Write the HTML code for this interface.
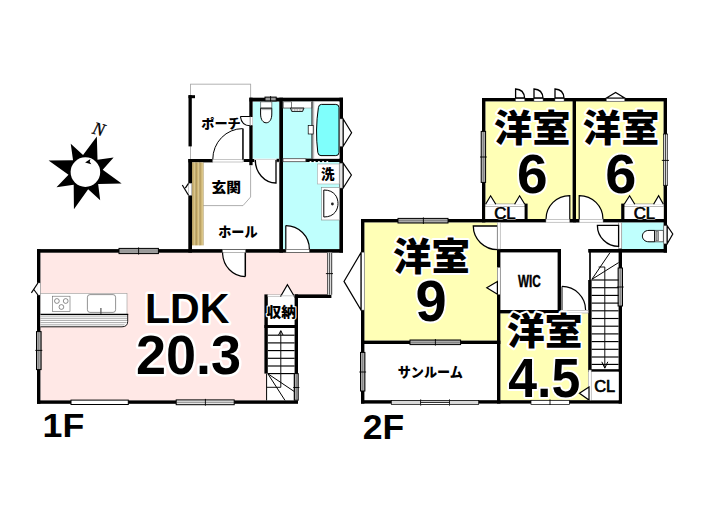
<!DOCTYPE html><html><head><meta charset="utf-8"><title>Floor plan</title><style>html,body{margin:0;padding:0;background:#fff;font-family:"Liberation Sans",sans-serif}body{width:705px;height:525px;overflow:hidden}</style></head><body><svg width="705" height="525" viewBox="0 0 705 525" style="display:block"><rect width="705" height="525" fill="#fff"/><path d="M40.40 252.60 L327.40 252.60 L327.40 295.00 L264.40 295.00 L264.40 373.60 L266.40 373.60 L266.40 400.40 L40.40 400.40 Z" fill="#FFE8E6" stroke="none" stroke-width="0.8"/>
<rect x="252.80" y="101.60" width="26.40" height="57.00" fill="#BFFFFD"/>
<rect x="283.00" y="101.60" width="29.00" height="57.00" fill="#BFFFFD"/>
<rect x="283.00" y="162.00" width="56.40" height="87.20" fill="#BFFFFD"/>
<path d="M190.50 84.00 L190.50 159.00" fill="none" stroke="#aaa" stroke-width="0.9"/>
<path d="M250.60 84.00 L250.60 98.00" fill="none" stroke="#aaa" stroke-width="0.9"/>
<path d="M190.10 84.20 L251.00 84.20" fill="none" stroke="#aaa" stroke-width="0.9"/>
<rect x="37.00" y="249.20" width="3.40" height="154.60" fill="#000"/>
<rect x="37.00" y="249.10" width="306.00" height="3.60" fill="#000"/>
<rect x="37.00" y="400.40" width="261.00" height="3.40" fill="#000"/>
<rect x="294.60" y="294.40" width="3.40" height="79.60" fill="#000"/>
<rect x="294.60" y="294.40" width="36.80" height="3.60" fill="#000"/>
<rect x="264.40" y="294.40" width="3.40" height="79.20" fill="#000"/>
<rect x="267.80" y="294.80" width="26.80" height="1.80" fill="#fff" stroke="#999" stroke-width="0.5"/>
<rect x="264.40" y="325.00" width="33.60" height="3.00" fill="#000"/>
<rect x="188.30" y="159.00" width="3.70" height="93.60" fill="#000"/>
<rect x="188.40" y="159.00" width="24.40" height="3.40" fill="#000"/>
<rect x="243.60" y="159.00" width="11.00" height="3.00" fill="#000"/>
<rect x="249.30" y="97.70" width="3.30" height="67.50" fill="#000"/>
<rect x="249.40" y="97.70" width="93.60" height="3.80" fill="#000"/>
<rect x="279.30" y="97.70" width="3.70" height="154.90" fill="#000"/>
<rect x="339.40" y="97.70" width="3.60" height="154.90" fill="#000"/>
<rect x="305.80" y="158.60" width="37.20" height="3.40" fill="#000"/>
<rect x="188.50" y="95.20" width="3.30" height="51.20" fill="#000"/>
<rect x="188.50" y="95.20" width="6.50" height="3.00" fill="#000"/>
<path d="M266.60 373.60 L266.60 400.40" fill="none" stroke="#000" stroke-width="1.0"/>
<path d="M294.20 373.60 L294.20 400.40" fill="none" stroke="#000" stroke-width="0.6"/>
<rect x="119.00" y="248.40" width="39.40" height="5.20" fill="#999" stroke="#000" stroke-width="1.0"/>
<path d="M119.80 250.30 L157.60 250.30" fill="none" stroke="#d4d4d4" stroke-width="0.5"/>
<path d="M119.80 251.70 L157.60 251.70" fill="none" stroke="#d4d4d4" stroke-width="0.5"/>
<path d="M119.80 251.00 L157.60 251.00" fill="none" stroke="#555" stroke-width="0.5"/>
<path d="M138.60 247.40 L138.60 254.60" fill="none" stroke="#000" stroke-width="0.9"/>
<rect x="36.50" y="331.60" width="4.60" height="38.00" fill="#999" stroke="#000" stroke-width="1.0"/>
<path d="M38.10 332.40 L38.10 368.80" fill="none" stroke="#d4d4d4" stroke-width="0.5"/>
<path d="M39.50 332.40 L39.50 368.80" fill="none" stroke="#d4d4d4" stroke-width="0.5"/>
<path d="M38.80 332.40 L38.80 368.80" fill="none" stroke="#555" stroke-width="0.5"/>
<path d="M35.30 350.40 L42.30 350.40" fill="none" stroke="#000" stroke-width="0.9"/>
<rect x="71.00" y="400.10" width="57.30" height="4.40" fill="#fff" stroke="#000" stroke-width="1.0"/>
<rect x="176.20" y="399.90" width="58.00" height="4.80" fill="#e4e4e4" stroke="#000" stroke-width="1.0"/>
<path d="M176.20 402.30 L234.20 402.30" fill="none" stroke="#333" stroke-width="0.5"/>
<path d="M205.40 398.90 L205.40 405.70" fill="none" stroke="#000" stroke-width="0.9"/>
<rect x="294.40" y="373.60" width="3.80" height="26.60" fill="#999" stroke="#000" stroke-width="1.0"/>
<path d="M295.60 374.40 L295.60 399.40" fill="none" stroke="#d4d4d4" stroke-width="0.5"/>
<path d="M297.00 374.40 L297.00 399.40" fill="none" stroke="#d4d4d4" stroke-width="0.5"/>
<path d="M296.30 374.40 L296.30 399.40" fill="none" stroke="#555" stroke-width="0.5"/>
<path d="M293.20 387.50 L299.40 387.50" fill="none" stroke="#000" stroke-width="0.9"/>
<rect x="327.30" y="252.60" width="4.80" height="42.20" fill="#fff"/>
<path d="M327.70 252.60 L327.70 294.80" fill="none" stroke="#000" stroke-width="0.8"/>
<path d="M329.70 252.60 L329.70 294.80" fill="none" stroke="#000" stroke-width="0.8"/>
<path d="M331.70 252.60 L331.70 294.80" fill="none" stroke="#000" stroke-width="0.8"/>
<path d="M325.90 273.60 L333.00 273.60" fill="none" stroke="#000" stroke-width="0.9"/>
<rect x="265.00" y="97.10" width="11.20" height="3.80" fill="#999" stroke="#000" stroke-width="1.0"/>
<path d="M270.60 96.10 L270.60 101.90" fill="none" stroke="#000" stroke-width="0.9"/>
<rect x="339.80" y="119.00" width="3.20" height="27.20" fill="#eee" stroke="#999" stroke-width="0.5"/>
<path d="M343.20 119.00 L351.60 132.70 L343.20 146.20 Z" fill="#fff" stroke="#000" stroke-width="1.2"/>
<rect x="339.80" y="163.20" width="3.20" height="24.80" fill="#e4e4e4" stroke="#888" stroke-width="0.5"/>
<path d="M343.20 163.20 L351.40 175.00 L343.20 188.00 Z" fill="#fff" stroke="#000" stroke-width="1.2"/>
<circle cx="310.5" cy="162" r="1.1" fill="#fff"/>
<circle cx="314.7" cy="162" r="1.1" fill="#fff"/>
<circle cx="318.9" cy="162" r="1.1" fill="#fff"/>
<circle cx="323.1" cy="162" r="1.1" fill="#fff"/>
<circle cx="327.3" cy="162" r="1.1" fill="#fff"/>
<rect x="212.80" y="159.30" width="30.20" height="2.70" fill="#fff" stroke="#8c8c8c" stroke-width="0.5"/>
<rect x="242.20" y="128.50" width="1.50" height="31.10" fill="#000"/>
<path d="M242.6 128.6 A30 30.6 0 0 0 212.8 159.2" fill="none" stroke="#000" stroke-width="1.0"/>
<rect x="249.20" y="116.40" width="3.50" height="9.40" fill="#fff"/>
<path d="M240.4 116.5 H252.4 M240.4 116.5 Q241.5 125.6 250 125.8 H252.4" fill="none" stroke="#000" stroke-width="1.1"/>
<path d="M250.40 116.60 L250.40 125.80" fill="none" stroke="#8c8c8c" stroke-width="0.7"/>
<rect x="254.60" y="159.20" width="24.60" height="3.00" fill="#eee" stroke="#bbb" stroke-width="0.5"/>
<rect x="276.60" y="158.80" width="2.80" height="3.00" fill="#000"/>
<path d="M255.3 160 A20.8 23 0 0 0 276 183 V160 Z" fill="#fff" stroke="none" stroke-width="0"/>
<path d="M255.3 160 A20.8 23 0 0 0 276 183 V160" fill="none" stroke="#000" stroke-width="1.3"/>
<rect x="283.00" y="158.70" width="22.80" height="3.00" fill="#fff" stroke="#444" stroke-width="0.8"/>
<rect x="222.40" y="249.60" width="23.20" height="2.70" fill="#fff" stroke="#555" stroke-width="0.5"/>
<path d="M222.6 252.6 A22.8 24 0 0 0 245.3 276.6 V252.6 Z" fill="#fff" stroke="none" stroke-width="0"/>
<path d="M222.6 252.6 A22.8 24 0 0 0 245.3 276.6" fill="none" stroke="#000" stroke-width="1.2"/>
<path d="M245.30 252.60 L245.30 276.60" fill="none" stroke="#000" stroke-width="1.5"/>
<rect x="286.00" y="249.60" width="23.40" height="2.70" fill="#fff" stroke="#555" stroke-width="0.5"/>
<path d="M285.8 225.6 A23.6 23.6 0 0 1 309.4 249.2 H285.8 Z" fill="#fff" stroke="none" stroke-width="0"/>
<path d="M285.8 225.6 A23.6 23.6 0 0 1 309.4 249.2" fill="none" stroke="#000" stroke-width="1.2"/>
<path d="M285.80 225.60 L285.80 249.20" fill="none" stroke="#000" stroke-width="1.2"/>
<path d="M203.30 205.60 L243.00 205.60 L250.60 197.00 L250.60 165.20" fill="none" stroke="#999" stroke-width="0.8"/>
<linearGradient id="wd" x1="0" x2="1" y1="0" y2="0"><stop offset="0" stop-color="#A48C4E"/><stop offset="0.3" stop-color="#C6AC6C"/><stop offset="0.72" stop-color="#DECA8E"/><stop offset="1" stop-color="#A48C4E"/></linearGradient>
<rect x="192.10" y="162.4" width="3.8" height="83" fill="url(#wd)"/>
<rect x="195.90" y="162.4" width="3.8" height="83" fill="url(#wd)"/>
<rect x="199.70" y="162.4" width="3.8" height="83" fill="url(#wd)"/>
<rect x="188.60" y="183.30" width="3.20" height="12.00" fill="#fff" stroke="#999" stroke-width="0.4"/>
<path d="M188.50 183.30 L185.30 188.00 L188.50 195.30 Z" fill="#fff" stroke="none" stroke-width="0"/>
<path d="M188.50 195.30 L182.30 185.00" fill="none" stroke="#000" stroke-width="1.2"/>
<path d="M185.30 188.20 L188.50 183.30" fill="none" stroke="#000" stroke-width="1.2"/>
<rect x="37.20" y="283.00" width="3.20" height="12.00" fill="#fff" stroke="#999" stroke-width="0.4"/>
<path d="M37.90 283.00 L33.80 289.60 L37.90 295.00 Z" fill="#fff" stroke="none" stroke-width="0"/>
<path d="M37.90 283.00 L31.40 292.80" fill="none" stroke="#000" stroke-width="1.2"/>
<path d="M33.80 289.50 L37.90 295.00" fill="none" stroke="#000" stroke-width="1.2"/>
<path d="M281.00 295.80 L287.40 284.60 L294.00 295.80 Z" fill="#fff" stroke="#000" stroke-width="1.2"/>
<rect x="281.40" y="295.20" width="12.20" height="1.70" fill="#fff"/>
<rect x="40.40" y="293.40" width="86.60" height="21.00" fill="#fff" stroke="#999" stroke-width="0.6"/>
<path d="M40.4 314.3 H127.7 V321.4 Q127.7 326.8 122 326.8 H40.4 Z" fill="#fff" stroke="none" stroke-width="0"/>
<path d="M40.40 316.10 L127.40 316.10" fill="none" stroke="#555" stroke-width="0.5"/>
<path d="M40.40 318.30 L127.40 318.30" fill="none" stroke="#555" stroke-width="0.5"/>
<path d="M40.40 320.40 L127.40 320.40" fill="none" stroke="#555" stroke-width="0.5"/>
<path d="M40.40 322.60 L126.60 322.60" fill="none" stroke="#555" stroke-width="0.5"/>
<path d="M40.40 324.80 L124.60 324.80" fill="none" stroke="#555" stroke-width="0.5"/>
<path d="M40.4 326.8 H122 Q127.7 326.8 127.7 321.4 V314.3" fill="none" stroke="#000" stroke-width="0.9"/>
<path d="M40.40 314.30 L128.20 314.30" fill="none" stroke="#000" stroke-width="1.2"/>
<rect x="52.30" y="296.20" width="17.70" height="15.40" fill="#fff" stroke="#666" stroke-width="0.6"/>
<circle cx="56.9" cy="301.0" r="2.4" fill="#fff" stroke="#444" stroke-width="0.6"/>
<circle cx="65.7" cy="301.0" r="2.4" fill="#fff" stroke="#444" stroke-width="0.6"/>
<circle cx="61.4" cy="307.0" r="2.4" fill="#fff" stroke="#444" stroke-width="0.6"/>
<rect x="87.4" y="294.6" width="28.2" height="17.8" rx="2.6" fill="#fff" stroke="#666" stroke-width="0.7"/>
<path d="M100.90 307.90 L100.90 314.00" fill="none" stroke="#555" stroke-width="1.2"/>
<path d="M260.6 101.8 H271.8 V108.2 H260.6 Z" fill="#fff" stroke="#333" stroke-width="0.6"/>
<path d="M260.6 108.2 H271.8 V114 C271.8 119.5 269.5 122.8 266.2 122.8 C262.9 122.8 260.6 119.5 260.6 114 Z" fill="#fff" stroke="#000" stroke-width="1.0"/>
<path d="M261.40 109.60 L271.00 109.60" fill="none" stroke="#666" stroke-width="0.5"/>
<rect x="283.00" y="101.60" width="29.00" height="6.40" fill="#fff" stroke="#888" stroke-width="0.5"/>
<rect x="283.20" y="101.80" width="8.30" height="6.20" fill="#fff" stroke="#444" stroke-width="0.7"/>
<path d="M290.4 108 H304 L302.6 111.5 H291.8 Z" fill="#bbb" stroke="#000" stroke-width="0.8"/>
<circle cx="293.4" cy="110" r="0.7" fill="#fff"/>
<circle cx="296.0" cy="110" r="0.7" fill="#fff"/>
<circle cx="298.6" cy="110" r="0.7" fill="#fff"/>
<circle cx="301.2" cy="110" r="0.7" fill="#fff"/>
<rect x="313.40" y="101.60" width="26.00" height="57.00" fill="#fff"/>
<path d="M312.00 101.60 L312.00 158.60" fill="none" stroke="#000" stroke-width="1.0"/>
<path d="M313.70 101.60 L313.70 158.60" fill="none" stroke="#777" stroke-width="0.6"/>
<path d="M321.4 104.4 H335.8 Q339 104.4 339 107.6 V152.4 Q339 155.6 335.8 155.6 H321 Q318.2 155.6 317.8 152.4 Q315 130 318.4 107.6 Q318.8 104.4 321.4 104.4 Z" fill="#7FFFFC" stroke="#000" stroke-width="1.0"/>
<rect x="308.20" y="125.60" width="5.00" height="8.40" fill="#fff" stroke="#000" stroke-width="0.7"/>
<rect x="317.60" y="164.00" width="21.60" height="20.00" fill="#fff" stroke="#aaa" stroke-width="0.6"/>
<rect x="321.60" y="187.60" width="17.80" height="32.40" fill="#fff" stroke="#888" stroke-width="0.6"/>
<path d="M323.8 190 C335 190 338 198 338 203.5 C338 209 335 217 323.8 217 Z" fill="#fff" stroke="#000" stroke-width="1.0"/>
<circle cx="332.4" cy="204" r="1.4" fill="#222"/>
<path d="M267.80 335.20 L294.60 335.20" fill="none" stroke="#000" stroke-width="1.15"/>
<path d="M267.80 342.90 L294.60 342.90" fill="none" stroke="#000" stroke-width="1.15"/>
<path d="M267.80 350.60 L294.60 350.60" fill="none" stroke="#000" stroke-width="1.15"/>
<path d="M267.80 358.30 L294.60 358.30" fill="none" stroke="#000" stroke-width="1.15"/>
<path d="M267.80 366.00 L294.60 366.00" fill="none" stroke="#000" stroke-width="1.15"/>
<path d="M267.80 373.60 L294.60 373.60" fill="none" stroke="#000" stroke-width="1.15"/>
<path d="M280.80 331.00 L280.80 387.30 L266.60 387.30" fill="none" stroke="#111" stroke-width="1.0"/>
<path d="M278.60 335.00 L280.80 330.60 L283.00 335.00" fill="none" stroke="#000" stroke-width="1.0"/>
<path d="M267.90 373.80 L294.40 391.60" fill="none" stroke="#000" stroke-width="1.0"/>
<path d="M267.90 373.80 L285.00 400.40" fill="none" stroke="#000" stroke-width="1.0"/>
<path d="M83.04 155.09 L96.85 136.53 L97.51 159.65 L113.63 157.61 L102.71 169.64 L121.65 183.57 L98.15 184.11 L100.19 200.23 L88.16 189.31 L73.93 209.20 L73.69 184.75 L56.51 187.35 L68.49 174.76 L48.60 160.53 L73.05 160.29 L70.73 143.64 Z" fill="#000" stroke="none" stroke-width="0"/>
<circle cx="85.4" cy="172.1" r="14.8" fill="#fff"/>
<path d="M85.10 162.40 L90.40 158.90 L89.70 161.80 L91.30 164.30 Z" fill="#000" stroke="none" stroke-width="0"/>
<g transform="rotate(16 99.2 129)"><text x="93.03" y="135.10" font-family="'Liberation Serif', serif" font-style="italic" font-size="18" fill="#000" stroke="#000" stroke-width="0.3" textLength="11.7" lengthAdjust="spacingAndGlyphs">N</text></g>
<rect x="485.40" y="101.40" width="87.20" height="117.60" fill="#FFFFB6"/>
<rect x="576.00" y="101.40" width="87.60" height="117.60" fill="#FFFFB6"/>
<rect x="364.40" y="222.40" width="133.10" height="118.20" fill="#FFFFB6"/>
<rect x="500.40" y="313.40" width="88.00" height="86.80" fill="#FFFFB6"/>
<rect x="622.00" y="222.40" width="41.60" height="26.60" fill="#BFFFFD"/>
<rect x="482.00" y="98.00" width="185.00" height="3.40" fill="#000"/>
<rect x="482.00" y="98.00" width="3.40" height="124.40" fill="#000"/>
<rect x="572.60" y="98.00" width="3.40" height="124.40" fill="#000"/>
<rect x="663.60" y="98.00" width="3.40" height="154.60" fill="#000"/>
<rect x="361.00" y="219.00" width="185.00" height="3.40" fill="#000"/>
<rect x="603.00" y="219.00" width="64.00" height="3.40" fill="#000"/>
<rect x="361.00" y="219.00" width="3.40" height="184.60" fill="#000"/>
<rect x="361.00" y="340.60" width="139.40" height="3.40" fill="#000"/>
<rect x="361.00" y="400.20" width="261.00" height="3.40" fill="#000"/>
<rect x="497.00" y="249.00" width="3.40" height="154.60" fill="#000"/>
<rect x="497.00" y="249.00" width="64.00" height="3.40" fill="#000"/>
<rect x="557.60" y="249.00" width="3.40" height="64.40" fill="#000"/>
<rect x="497.00" y="310.00" width="64.00" height="3.40" fill="#000"/>
<rect x="588.20" y="249.00" width="78.80" height="3.60" fill="#000"/>
<rect x="588.20" y="280.00" width="3.40" height="90.00" fill="#000"/>
<rect x="618.60" y="222.40" width="3.40" height="181.20" fill="#000"/>
<rect x="588.20" y="369.20" width="33.80" height="2.60" fill="#000"/>
<path d="M590.00 252.00 L590.00 280.00" fill="none" stroke="#000" stroke-width="1.7"/>
<rect x="485.40" y="204.40" width="42.20" height="14.60" fill="#fff"/>
<rect x="485.40" y="203.90" width="39.60" height="2.80" fill="#fff" stroke="#888" stroke-width="0.6"/>
<rect x="524.60" y="203.60" width="3.00" height="15.40" fill="#000"/>
<rect x="621.00" y="204.40" width="42.60" height="14.60" fill="#fff"/>
<rect x="624.00" y="203.90" width="39.60" height="2.80" fill="#fff" stroke="#888" stroke-width="0.6"/>
<rect x="621.20" y="203.60" width="3.20" height="15.40" fill="#000"/>
<rect x="591.60" y="371.80" width="27.00" height="28.40" fill="#fff"/>
<path d="M485.40 204.20 L490.60 195.80 L496.00 204.20 Z" fill="#fff" stroke="none" stroke-width="0"/>
<path d="M485.60 204.20 L490.60 195.80 L495.80 204.20" fill="none" stroke="#000" stroke-width="1.2"/>
<path d="M514.40 204.20 L519.60 195.80 L525.00 204.20 Z" fill="#fff" stroke="none" stroke-width="0"/>
<path d="M514.60 204.20 L519.60 195.80 L524.80 204.20" fill="none" stroke="#000" stroke-width="1.2"/>
<path d="M624.00 204.20 L629.60 195.80 L635.00 204.20 Z" fill="#fff" stroke="none" stroke-width="0"/>
<path d="M624.20 204.20 L629.60 195.80 L634.80 204.20" fill="none" stroke="#000" stroke-width="1.2"/>
<path d="M653.40 204.20 L658.60 195.80 L663.60 204.20 Z" fill="#fff" stroke="none" stroke-width="0"/>
<path d="M653.60 204.20 L658.60 195.80 L663.40 204.20" fill="none" stroke="#000" stroke-width="1.2"/>
<path d="M569.8 195.6 A23.6 23.6 0 0 0 546 219.2 H569.8 Z" fill="#fff" stroke="none" stroke-width="0"/>
<path d="M546 219.2 A23.6 23.6 0 0 1 569.8 195.6 V219.2" fill="none" stroke="#000" stroke-width="1.2"/>
<rect x="546.00" y="219.40" width="26.60" height="2.80" fill="#fff" stroke="#8c8c8c" stroke-width="0.5"/>
<path d="M579.2 195.6 A23.6 23.6 0 0 1 603 219.2 H579.2 Z" fill="#fff" stroke="none" stroke-width="0"/>
<path d="M603 219.2 A23.6 23.6 0 0 0 579.2 195.6 V219.2" fill="none" stroke="#000" stroke-width="1.2"/>
<rect x="576.00" y="219.40" width="27.00" height="2.80" fill="#fff" stroke="#8c8c8c" stroke-width="0.5"/>
<rect x="569.60" y="219.00" width="9.80" height="3.40" fill="#000"/>
<path d="M473.3 226 H497.6 V249.6 A24.3 23.6 0 0 1 473.3 226 Z" fill="#fff" stroke="#000" stroke-width="1.3"/>
<rect x="497.40" y="222.40" width="2.80" height="26.60" fill="#fff" stroke="#8c8c8c" stroke-width="0.5"/>
<rect x="497.30" y="267.60" width="2.90" height="26.80" fill="#fff" stroke="#8c8c8c" stroke-width="0.5"/>
<path d="M497.40 281.60 L486.80 287.80 L497.40 294.30 Z" fill="#fff" stroke="#000" stroke-width="1.2"/>
<rect x="561.00" y="310.30" width="27.20" height="2.70" fill="#fff" stroke="#8c8c8c" stroke-width="0.5"/>
<path d="M562 286.4 A23.6 23.6 0 0 1 585.6 310 H562 Z" fill="#fff" stroke="none" stroke-width="0"/>
<path d="M562 286.4 A23.6 23.6 0 0 1 585.6 310" fill="none" stroke="#000" stroke-width="1.2"/>
<path d="M562.00 286.40 L562.00 310.00" fill="none" stroke="#000" stroke-width="1.0"/>
<rect x="618.80" y="222.40" width="3.00" height="26.20" fill="#fff" stroke="#8c8c8c" stroke-width="0.5"/>
<path d="M597.4 225.4 H618.6 V246.4 A21.2 21 0 0 1 597.4 225.4 Z" fill="#fff" stroke="#000" stroke-width="1.3"/>
<rect x="588.60" y="370.00" width="2.60" height="30.20" fill="#fff" stroke="#8c8c8c" stroke-width="0.5"/>
<path d="M589.00 387.00 L579.40 393.20 L589.00 400.00 Z" fill="#fff" stroke="#000" stroke-width="1.2"/>
<rect x="361.20" y="252.40" width="3.00" height="57.60" fill="#fff" stroke="#8c8c8c" stroke-width="0.5"/>
<path d="M361.00 252.60 L344.00 281.40 L361.00 310.00 Z" fill="#fff" stroke="#000" stroke-width="1.2"/>
<rect x="663.80" y="225.80" width="3.20" height="18.00" fill="#f4f4f4" stroke="#666" stroke-width="0.5"/>
<path d="M667.20 225.80 L672.80 234.00 L667.20 243.80 Z" fill="#fff" stroke="#000" stroke-width="1.2"/>
<rect x="398.00" y="218.40" width="50.00" height="4.60" fill="#999" stroke="#000" stroke-width="1.0"/>
<path d="M398.80 220.00 L447.20 220.00" fill="none" stroke="#d4d4d4" stroke-width="0.5"/>
<path d="M398.80 221.40 L447.20 221.40" fill="none" stroke="#d4d4d4" stroke-width="0.5"/>
<path d="M398.80 220.70 L447.20 220.70" fill="none" stroke="#555" stroke-width="0.5"/>
<path d="M423.40 217.40 L423.40 224.00" fill="none" stroke="#000" stroke-width="0.9"/>
<rect x="410.00" y="340.00" width="50.60" height="4.60" fill="#999" stroke="#000" stroke-width="1.0"/>
<path d="M410.80 341.60 L459.80 341.60" fill="none" stroke="#d4d4d4" stroke-width="0.5"/>
<path d="M410.80 343.00 L459.80 343.00" fill="none" stroke="#d4d4d4" stroke-width="0.5"/>
<path d="M410.80 342.30 L459.80 342.30" fill="none" stroke="#555" stroke-width="0.5"/>
<path d="M435.40 339.00 L435.40 345.60" fill="none" stroke="#000" stroke-width="0.9"/>
<rect x="360.50" y="352.40" width="4.40" height="38.60" fill="#999" stroke="#000" stroke-width="1.0"/>
<path d="M362.00 353.20 L362.00 390.20" fill="none" stroke="#d4d4d4" stroke-width="0.5"/>
<path d="M363.40 353.20 L363.40 390.20" fill="none" stroke="#d4d4d4" stroke-width="0.5"/>
<path d="M362.70 353.20 L362.70 390.20" fill="none" stroke="#555" stroke-width="0.5"/>
<path d="M359.30 372.00 L366.10 372.00" fill="none" stroke="#000" stroke-width="0.9"/>
<rect x="481.20" y="131.40" width="4.40" height="51.00" fill="#999" stroke="#000" stroke-width="1.0"/>
<path d="M482.70 132.20 L482.70 181.60" fill="none" stroke="#d4d4d4" stroke-width="0.5"/>
<path d="M484.10 132.20 L484.10 181.60" fill="none" stroke="#d4d4d4" stroke-width="0.5"/>
<path d="M483.40 132.20 L483.40 181.60" fill="none" stroke="#555" stroke-width="0.5"/>
<path d="M480.00 157.00 L486.80 157.00" fill="none" stroke="#000" stroke-width="0.9"/>
<rect x="663.20" y="134.00" width="4.60" height="51.40" fill="#fff"/>
<path d="M663.60 134.00 L663.60 185.40" fill="none" stroke="#000" stroke-width="0.8"/>
<path d="M665.40 134.00 L665.40 185.40" fill="none" stroke="#000" stroke-width="0.8"/>
<path d="M667.30 134.00 L667.30 185.40" fill="none" stroke="#000" stroke-width="0.8"/>
<path d="M663.20 134.00 L667.80 134.00" fill="none" stroke="#000" stroke-width="0.8"/>
<path d="M663.20 185.40 L667.80 185.40" fill="none" stroke="#000" stroke-width="0.8"/>
<path d="M661.80 160.40 L669.00 160.40" fill="none" stroke="#000" stroke-width="0.9"/>
<rect x="618.10" y="268.00" width="4.40" height="38.00" fill="#999" stroke="#000" stroke-width="1.0"/>
<path d="M619.60 268.80 L619.60 305.20" fill="none" stroke="#d4d4d4" stroke-width="0.5"/>
<path d="M621.00 268.80 L621.00 305.20" fill="none" stroke="#d4d4d4" stroke-width="0.5"/>
<path d="M620.30 268.80 L620.30 305.20" fill="none" stroke="#555" stroke-width="0.5"/>
<path d="M616.90 287.00 L623.70 287.00" fill="none" stroke="#000" stroke-width="0.9"/>
<rect x="391.30" y="400.40" width="87.40" height="4.20" fill="#d8d8d8" stroke="#000" stroke-width="0.7"/>
<path d="M420.70 399.40 L420.70 405.60" fill="none" stroke="#000" stroke-width="0.9"/>
<path d="M449.50 399.40 L449.50 405.60" fill="none" stroke="#000" stroke-width="0.9"/>
<rect x="420.70" y="400.40" width="28.80" height="4.20" fill="#fff" stroke="#000" stroke-width="0.7"/>
<path d="M420.70 402.30 L449.50 402.30" fill="none" stroke="#000" stroke-width="1.0"/>
<rect x="531.00" y="400.30" width="38.40" height="4.20" fill="#fff" stroke="#000" stroke-width="0.7"/>
<path d="M550.00 399.40 L550.00 405.00" fill="none" stroke="#000" stroke-width="0.9"/>
<rect x="515.60" y="98.20" width="9.00" height="3.00" fill="#fff" stroke="#666" stroke-width="0.5"/>
<path d="M515.6 98 V89 Q524.0 89.4 524.6 98 Z" fill="#fff" stroke="#000" stroke-width="1.3"/>
<rect x="534.00" y="98.20" width="9.00" height="3.00" fill="#fff" stroke="#666" stroke-width="0.5"/>
<path d="M534.0 98 V89 Q542.4 89.4 543.0 98 Z" fill="#fff" stroke="#000" stroke-width="1.3"/>
<rect x="555.00" y="98.20" width="9.00" height="3.00" fill="#fff" stroke="#666" stroke-width="0.5"/>
<path d="M555.0 98 V89 Q563.4 89.4 564.0 98 Z" fill="#fff" stroke="#000" stroke-width="1.3"/>
<rect x="606.40" y="98.20" width="18.20" height="3.00" fill="#fff" stroke="#666" stroke-width="0.5"/>
<path d="M606.40 98.00 L615.60 92.40 L624.60 98.00 Z" fill="#fff" stroke="#000" stroke-width="1.2"/>
<path d="M654.6 230.4 H663.4 V241.8 H654.6 Z" fill="#fff" stroke="#222" stroke-width="0.7"/>
<rect x="656.00" y="231.40" width="2.60" height="9.40" fill="#aaa" stroke="#444" stroke-width="0.5"/>
<path d="M654.6 230.4 H649 C644.5 230.4 642.4 233.4 642.4 236.1 C642.4 238.8 644.5 241.8 649 241.8 H654.6 Z" fill="#fff" stroke="#000" stroke-width="1.0"/>
<path d="M591.60 280.00 L618.60 280.00" fill="none" stroke="#000" stroke-width="1.15"/>
<path d="M591.60 287.70 L618.60 287.70" fill="none" stroke="#000" stroke-width="1.15"/>
<path d="M591.60 295.40 L618.60 295.40" fill="none" stroke="#000" stroke-width="1.15"/>
<path d="M591.60 303.10 L618.60 303.10" fill="none" stroke="#000" stroke-width="1.15"/>
<path d="M591.60 310.80 L618.60 310.80" fill="none" stroke="#000" stroke-width="1.15"/>
<path d="M591.60 318.50 L618.60 318.50" fill="none" stroke="#000" stroke-width="1.15"/>
<path d="M591.60 326.20 L618.60 326.20" fill="none" stroke="#000" stroke-width="1.15"/>
<path d="M591.60 333.90 L618.60 333.90" fill="none" stroke="#000" stroke-width="1.15"/>
<path d="M591.60 341.60 L618.60 341.60" fill="none" stroke="#000" stroke-width="1.15"/>
<path d="M591.60 349.30 L618.60 349.30" fill="none" stroke="#000" stroke-width="1.15"/>
<path d="M591.60 357.00 L618.60 357.00" fill="none" stroke="#000" stroke-width="1.15"/>
<path d="M591.60 364.40 L618.60 364.40" fill="none" stroke="#000" stroke-width="1.15"/>
<path d="M591.80 279.40 L610.00 252.60" fill="none" stroke="#000" stroke-width="1.0"/>
<path d="M591.80 279.40 L618.60 262.60" fill="none" stroke="#000" stroke-width="1.0"/>
<path d="M598.60 267.00 L604.80 267.00 L604.80 368.00" fill="none" stroke="#111" stroke-width="1.0"/>
<path d="M601.80 361.80 L604.80 368.20 L607.80 361.80" fill="none" stroke="#000" stroke-width="1.0"/>
<g font-family="'Liberation Sans', 'Noto Sans CJK JP', sans-serif" font-weight="900" fill="#000">
<text x="201.23" y="127.73" font-size="13" textLength="39.5" lengthAdjust="spacingAndGlyphs">ポーチ</text>
<text x="211.43" y="192.37" font-size="14" textLength="29.6" lengthAdjust="spacingAndGlyphs">玄関</text>
<text x="218.13" y="236.89" font-size="14" textLength="39.4" lengthAdjust="spacingAndGlyphs">ホール</text>
<text x="320.98" y="179.13" font-size="13.5">洗</text>
<text x="266.55" y="316.67" font-size="14" textLength="29.5" lengthAdjust="spacingAndGlyphs" stroke="#fff" stroke-width="2" stroke-linejoin="round" paint-order="stroke">収納</text>
<text x="145.06" y="323.40" font-size="43" font-weight="bold" textLength="84.3" lengthAdjust="spacingAndGlyphs" stroke="#fff" stroke-width="5" stroke-linejoin="round" paint-order="stroke">LDK</text>
<text x="135.93" y="374.35" font-size="56" font-weight="bold" textLength="105.2" lengthAdjust="spacingAndGlyphs" stroke="#fff" stroke-width="5" stroke-linejoin="round" paint-order="stroke">20.3</text>
<text x="42.59" y="436.80" font-size="34" font-weight="bold" textLength="41.7" lengthAdjust="spacingAndGlyphs">1F</text>
<text x="362.77" y="439.40" font-size="35" font-weight="bold" textLength="41.5" lengthAdjust="spacingAndGlyphs">2F</text>
<text x="393.12" y="270.01" font-size="38" textLength="76.8" lengthAdjust="spacingAndGlyphs" stroke="#fff" stroke-width="4" stroke-linejoin="round" paint-order="stroke">洋室</text>
<text x="415.45" y="321.41" font-size="58" font-weight="bold" textLength="31.2" lengthAdjust="spacingAndGlyphs" stroke="#fff" stroke-width="4" stroke-linejoin="round" paint-order="stroke">9</text>
<text x="397.72" y="377.34" font-size="13.5" textLength="65.2" lengthAdjust="spacingAndGlyphs">サンルーム</text>
<text x="494.12" y="142.39" font-size="37" textLength="76.4" lengthAdjust="spacingAndGlyphs" stroke="#fff" stroke-width="4" stroke-linejoin="round" paint-order="stroke">洋室</text>
<text x="516.98" y="192.64" font-size="56" font-weight="bold" textLength="30.6" lengthAdjust="spacingAndGlyphs" stroke="#fff" stroke-width="4" stroke-linejoin="round" paint-order="stroke">6</text>
<text x="582.72" y="142.39" font-size="37" textLength="76.6" lengthAdjust="spacingAndGlyphs" stroke="#fff" stroke-width="4" stroke-linejoin="round" paint-order="stroke">洋室</text>
<text x="605.15" y="192.64" font-size="56" font-weight="bold" textLength="31.1" lengthAdjust="spacingAndGlyphs" stroke="#fff" stroke-width="4" stroke-linejoin="round" paint-order="stroke">6</text>
<text x="494.15" y="219.24" font-size="16.7" font-weight="normal" textLength="21.4" lengthAdjust="spacingAndGlyphs" fill="#fff" stroke="#fff" stroke-width="1.5" stroke-linejoin="round" opacity="0.9">CL</text>
<text x="494.15" y="219.24" font-size="16.7" font-weight="normal" textLength="21.4" lengthAdjust="spacingAndGlyphs" stroke="#000" stroke-width="0.7">CL</text>
<text x="633.75" y="219.24" font-size="16.7" font-weight="normal" textLength="21.4" lengthAdjust="spacingAndGlyphs" fill="#fff" stroke="#fff" stroke-width="1.5" stroke-linejoin="round" opacity="0.9">CL</text>
<text x="633.75" y="219.24" font-size="16.7" font-weight="normal" textLength="21.4" lengthAdjust="spacingAndGlyphs" stroke="#000" stroke-width="0.7">CL</text>
<text x="517.99" y="286.84" font-size="16" font-weight="bold" textLength="22.9" lengthAdjust="spacingAndGlyphs" stroke="#000" stroke-width="0.4">WIC</text>
<text x="507.13" y="345.15" font-size="37" textLength="75.4" lengthAdjust="spacingAndGlyphs" stroke="#fff" stroke-width="4" stroke-linejoin="round" paint-order="stroke">洋室</text>
<text x="508.22" y="396.82" font-size="56" font-weight="bold" textLength="72" lengthAdjust="spacingAndGlyphs" stroke="#fff" stroke-width="4" stroke-linejoin="round" paint-order="stroke">4.5</text>
<text x="594.17" y="392.44" font-size="16.4" font-weight="normal" textLength="21" lengthAdjust="spacingAndGlyphs" stroke="#000" stroke-width="0.7">CL</text>
</g></svg></body></html>
